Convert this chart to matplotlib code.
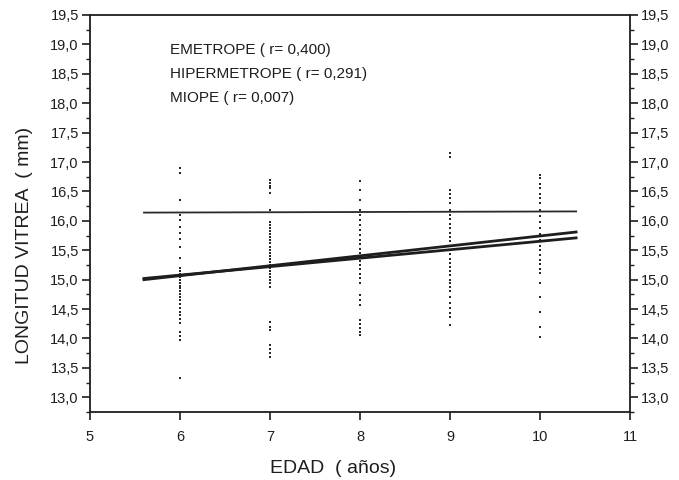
import numpy as np
import matplotlib.pyplot as plt
from matplotlib.ticker import MultipleLocator, FuncFormatter

plt.rcParams['font.family'] = ['Liberation Sans', 'DejaVu Sans']

# scatter values (EDAD -> LONGITUD VITREA)
edad6 = [16.89, 16.82, 16.35, 16.10, 16.01, 15.89, 15.79, 15.69, 15.56, 15.36,
         15.20, 15.15, 15.10, 15.04, 15.00, 14.95, 14.90, 14.85, 14.80, 14.75,
         14.70, 14.65, 14.58, 14.52, 14.45, 14.40, 14.33, 14.26, 14.11, 14.05,
         13.97, 13.33]
edad7 = [16.70, 16.65, 16.60, 16.55, 16.47, 16.18, 15.98, 15.93, 15.88, 15.83,
         15.78, 15.72, 15.67, 15.62, 15.56, 15.50, 15.45, 15.40, 15.35, 15.30,
         15.25, 15.20, 15.15, 15.10, 15.05, 15.00, 14.94, 14.88, 14.28, 14.20,
         14.14, 13.89, 13.82, 13.75, 13.69]
edad8 = [16.68, 16.52, 16.35, 16.18, 16.10, 16.02, 15.93, 15.85, 15.76, 15.67,
         15.60, 15.52, 15.45, 15.38, 15.32, 15.25, 15.18, 15.10, 15.02, 14.94,
         14.74, 14.66, 14.57, 14.31, 14.24, 14.17, 14.11, 14.06]
edad9 = [17.15, 17.09, 16.52, 16.45, 16.38, 16.30, 16.18, 16.10, 16.03, 15.95,
         15.88, 15.80, 15.73, 15.65, 15.58, 15.50, 15.43, 15.35, 15.28, 15.22,
         15.15, 15.08, 15.00, 14.94, 14.87, 14.80, 14.70, 14.60, 14.52, 14.44,
         14.36, 14.23]
edad10 = [16.78, 16.72, 16.62, 16.55, 16.45, 16.38, 16.30, 16.18, 16.08, 15.98,
          15.88, 15.78, 15.67, 15.58, 15.50, 15.42, 15.34, 15.26, 15.18, 15.11,
          14.94, 14.70, 14.45, 14.19, 14.02]
edades = [6, 7, 8, 9, 10]
grupos = [edad6, edad7, edad8, edad9, edad10]

# regression lines (end points)
x_rec = [5.6, 10.4]
emetrope = [15.00, 15.81]
hipermetrope = [15.02, 15.71]
miope = [16.14, 16.16]

fig = plt.figure(figsize=(6.79, 4.8), dpi=100)
ax = fig.add_axes([0.1325, 0.1417, 0.7955, 0.8271])

for e, g in zip(edades, grupos):
    ax.plot([e] * len(g), g, 's', color='#2a2a2a', markersize=1.6, markeredgewidth=0)

ax.plot(x_rec, emetrope, color='#1e1e1e', lw=2.0)
ax.plot(x_rec, hipermetrope, color='#1e1e1e', lw=2.0)
ax.plot(x_rec, miope, color='#2a2a2a', lw=1.3)

ax.set_xlim(5, 11)
ax.set_ylim(12.75, 19.5)
ax.xaxis.set_major_locator(MultipleLocator(1))
ax.yaxis.set_major_locator(MultipleLocator(0.5))
ax.yaxis.set_minor_locator(MultipleLocator(0.25))
ax.yaxis.set_major_formatter(FuncFormatter(lambda v, p: ('%.1f' % v).replace('.', ',')))

ax.tick_params(axis='both', which='major', direction='out', length=6, width=1.2,
               labelsize=10.5, colors='#1e1e1e')
ax.tick_params(axis='y', which='minor', direction='out', length=3, width=1.0, colors='#1e1e1e')
ax.tick_params(axis='y', which='both', right=True, labelright=True)
ax.tick_params(axis='y', which='major', pad=2)
ax.tick_params(axis='x', which='major', pad=7)
for s in ax.spines.values():
    s.set_linewidth(1.3)
    s.set_color('#1e1e1e')

ax.set_xlabel('EDAD  ( años)', fontsize=14, color='#1e1e1e')
ax.xaxis.set_label_coords(0.45, -0.12)
ax.set_ylabel('LONGITUD VITREA  ( mm)', fontsize=14, color='#1e1e1e')
ax.yaxis.set_label_coords(-0.105, 0.42)

ax.text(5.89, 18.9, 'EMETROPE ( r= 0,400)', fontsize=11, va='center', color='#1e1e1e')
ax.text(5.89, 18.5, 'HIPERMETROPE ( r= 0,291)', fontsize=11, va='center', color='#1e1e1e')
ax.text(5.89, 18.08, 'MIOPE ( r= 0,007)', fontsize=11, va='center', color='#1e1e1e')

fig.savefig('out.png', dpi=100)
